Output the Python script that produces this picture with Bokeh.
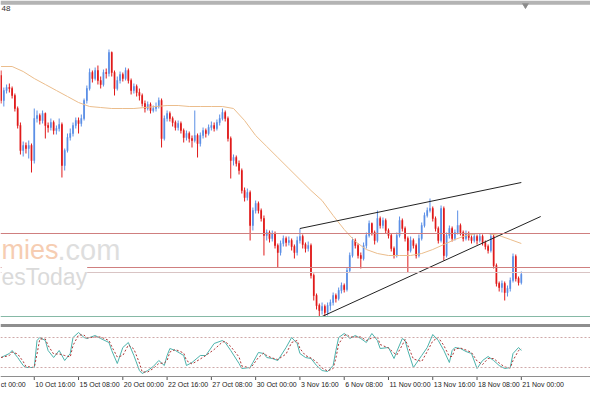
import pandas as pd
from bokeh.plotting import figure
from bokeh.models import Range1d, Span, Label, ColumnDataSource
from bokeh.core.properties import value
from bokeh.embed import file_html
from bokeh.resources import INLINE

# ---------------- data (H4 candles, 8 Oct .. 21 Nov) ----------------
first_open = 1.2625
close = [1.2600, 1.2610, 1.2613, 1.2612, 1.2605, 1.2592, 1.2575, 1.2550, 1.2555, 1.2552,
         1.2555, 1.2540, 1.2582, 1.2585, 1.2580, 1.2587, 1.2575, 1.2573, 1.2578, 1.2570,
         1.2572, 1.2576, 1.2535, 1.2550, 1.2563, 1.2567, 1.2575, 1.2580, 1.2577, 1.2582,
         1.2600, 1.2612, 1.2628, 1.2622, 1.2630, 1.2620, 1.2616, 1.2628, 1.2627, 1.2648,
         1.2628, 1.2612, 1.2620, 1.2626, 1.2622, 1.2630, 1.2620, 1.2610, 1.2614, 1.2608,
         1.2605, 1.2597, 1.2592, 1.2596, 1.2590, 1.2592, 1.2594, 1.2600, 1.2562, 1.2582,
         1.2587, 1.2582, 1.2578, 1.2573, 1.2577, 1.2570, 1.2563, 1.2567, 1.2562, 1.2560,
         1.2565, 1.2557, 1.2565, 1.2570, 1.2567, 1.2573, 1.2575, 1.2572, 1.2578, 1.2582,
         1.2588, 1.2582, 1.2562, 1.2540, 1.2543, 1.2537, 1.2530, 1.2510, 1.2503, 1.2508,
         1.2475, 1.2490, 1.2497, 1.2490, 1.2482, 1.2465, 1.2468, 1.2462, 1.2467, 1.2455,
         1.2448, 1.2457, 1.2462, 1.2458, 1.2460, 1.2454, 1.2448, 1.2460, 1.2464, 1.2456,
         1.2452, 1.2455, 1.2425, 1.2405, 1.2395, 1.2390, 1.2394, 1.2388, 1.2395, 1.2398,
         1.2405, 1.2402, 1.2410, 1.2415, 1.2411, 1.2430, 1.2445, 1.2460, 1.2455, 1.2445,
         1.2442, 1.2455, 1.2465, 1.2477, 1.2468, 1.2460, 1.2482, 1.2475, 1.2480, 1.2470,
         1.2465, 1.2452, 1.2445, 1.2465, 1.2480, 1.2472, 1.2462, 1.2450, 1.2460, 1.2455,
         1.2445, 1.2462, 1.2475, 1.2485, 1.2490, 1.2492, 1.2482, 1.2472, 1.2460, 1.2492,
         1.2445, 1.2465, 1.2472, 1.2462, 1.2468, 1.2475, 1.2468, 1.2462, 1.2467, 1.2463,
         1.2460, 1.2464, 1.2460, 1.2464, 1.2458, 1.2454, 1.2450, 1.2464, 1.2435, 1.2417,
         1.2413, 1.2417, 1.2408, 1.2412, 1.2420, 1.2444, 1.2422, 1.2418, 1.2426]
high = [1.2630, 1.2613, 1.2616, 1.2617, 1.2614, 1.2607, 1.2594, 1.2578, 1.2559, 1.2558,
        1.2560, 1.2557, 1.2592, 1.2590, 1.2587, 1.2590, 1.2588, 1.2578, 1.2582, 1.2580,
        1.2575, 1.2582, 1.2578, 1.2552, 1.2567, 1.2572, 1.2578, 1.2583, 1.2583, 1.2586,
        1.2602, 1.2615, 1.2632, 1.2630, 1.2633, 1.2635, 1.2624, 1.2631, 1.2632, 1.2651,
        1.2649, 1.2630, 1.2624, 1.2629, 1.2628, 1.2633, 1.2632, 1.2622, 1.2617, 1.2616,
        1.2612, 1.2607, 1.2600, 1.2599, 1.2598, 1.2595, 1.2598, 1.2603, 1.2602, 1.2585,
        1.2590, 1.2589, 1.2584, 1.2580, 1.2580, 1.2579, 1.2572, 1.2570, 1.2569, 1.2565,
        1.2590, 1.2567, 1.2568, 1.2573, 1.2572, 1.2576, 1.2579, 1.2578, 1.2581, 1.2586,
        1.2592, 1.2590, 1.2584, 1.2564, 1.2546, 1.2545, 1.2540, 1.2532, 1.2513, 1.2512,
        1.2510, 1.2493, 1.2500, 1.2499, 1.2492, 1.2485, 1.2471, 1.2470, 1.2470, 1.2469,
        1.2457, 1.2460, 1.2465, 1.2464, 1.2464, 1.2462, 1.2456, 1.2464, 1.2472, 1.2466,
        1.2458, 1.2459, 1.2457, 1.2427, 1.2407, 1.2397, 1.2398, 1.2396, 1.2398, 1.2401,
        1.2408, 1.2407, 1.2413, 1.2418, 1.2417, 1.2433, 1.2448, 1.2463, 1.2462, 1.2457,
        1.2448, 1.2458, 1.2468, 1.2480, 1.2478, 1.2470, 1.2490, 1.2484, 1.2483, 1.2482,
        1.2472, 1.2467, 1.2454, 1.2468, 1.2484, 1.2482, 1.2474, 1.2464, 1.2464, 1.2462,
        1.2457, 1.2466, 1.2478, 1.2488, 1.2493, 1.2502, 1.2494, 1.2484, 1.2474, 1.2495,
        1.2494, 1.2468, 1.2475, 1.2474, 1.2471, 1.2490, 1.2477, 1.2470, 1.2470, 1.2469,
        1.2465, 1.2467, 1.2466, 1.2467, 1.2466, 1.2460, 1.2456, 1.2467, 1.2466, 1.2437,
        1.2419, 1.2420, 1.2419, 1.2415, 1.2423, 1.2447, 1.2446, 1.2424, 1.2429]
low = [1.2597, 1.2594, 1.2607, 1.2608, 1.2602, 1.2589, 1.2572, 1.2546, 1.2544, 1.2547,
       1.2542, 1.2528, 1.2537, 1.2578, 1.2576, 1.2577, 1.2562, 1.2568, 1.2570, 1.2566,
       1.2566, 1.2569, 1.2523, 1.2530, 1.2548, 1.2560, 1.2564, 1.2572, 1.2567, 1.2574,
       1.2580, 1.2597, 1.2610, 1.2618, 1.2620, 1.2616, 1.2612, 1.2614, 1.2622, 1.2624,
       1.2624, 1.2605, 1.2610, 1.2617, 1.2619, 1.2620, 1.2617, 1.2606, 1.2607, 1.2604,
       1.2600, 1.2594, 1.2588, 1.2590, 1.2587, 1.2588, 1.2589, 1.2592, 1.2553, 1.2560,
       1.2579, 1.2579, 1.2574, 1.2570, 1.2570, 1.2567, 1.2558, 1.2560, 1.2558, 1.2553,
       1.2558, 1.2543, 1.2554, 1.2562, 1.2563, 1.2565, 1.2570, 1.2569, 1.2570, 1.2575,
       1.2580, 1.2579, 1.2559, 1.2522, 1.2535, 1.2534, 1.2526, 1.2507, 1.2499, 1.2500,
       1.2460, 1.2470, 1.2487, 1.2487, 1.2479, 1.2445, 1.2460, 1.2458, 1.2459, 1.2452,
       1.2433, 1.2445, 1.2454, 1.2454, 1.2455, 1.2450, 1.2442, 1.2445, 1.2457, 1.2452,
       1.2448, 1.2449, 1.2422, 1.2400, 1.2391, 1.2384, 1.2386, 1.2384, 1.2385, 1.2390,
       1.2395, 1.2398, 1.2400, 1.2407, 1.2408, 1.2409, 1.2428, 1.2443, 1.2452, 1.2442,
       1.2432, 1.2440, 1.2452, 1.2463, 1.2465, 1.2456, 1.2458, 1.2472, 1.2472, 1.2467,
       1.2462, 1.2449, 1.2442, 1.2443, 1.2463, 1.2469, 1.2459, 1.2428, 1.2448, 1.2452,
       1.2442, 1.2443, 1.2460, 1.2473, 1.2483, 1.2488, 1.2479, 1.2469, 1.2457, 1.2458,
       1.2440, 1.2443, 1.2462, 1.2459, 1.2460, 1.2466, 1.2465, 1.2459, 1.2460, 1.2460,
       1.2457, 1.2458, 1.2456, 1.2458, 1.2455, 1.2451, 1.2447, 1.2448, 1.2432, 1.2414,
       1.2409, 1.2408, 1.2400, 1.2404, 1.2409, 1.2418, 1.2419, 1.2415, 1.2416]

# moving average, read every 4 bars
ma_bars = list(range(0, 189, 4))
ma_values = [1.2634, 1.2634, 1.2629, 1.2622, 1.2616, 1.2610, 1.2604, 1.2598, 1.2594, 1.2593,
             1.2592, 1.2592, 1.2592, 1.2593, 1.2594, 1.2595, 1.2595, 1.2594, 1.2594, 1.2594,
             1.2594, 1.2592, 1.2580, 1.2565, 1.2554, 1.2543, 1.2532, 1.2521, 1.2510, 1.2500,
             1.2485, 1.2471, 1.2459, 1.2451, 1.2447, 1.2445, 1.2445, 1.2445, 1.2447, 1.2451,
             1.2456, 1.2461, 1.2465, 1.2467, 1.2467, 1.2465, 1.2461, 1.2457]

# stochastic %K
stoch_bars = [0, 3, 4, 6, 8, 9, 12, 13, 14, 16, 17, 19, 21, 23, 25, 26, 28, 30, 31, 34,
              36, 39, 40, 42, 44, 46, 48, 50, 51, 53, 55, 57, 59, 60, 61, 63, 66, 67, 69, 72,
              74, 77, 80, 81, 83, 86, 87, 90, 91, 93, 95, 96, 98, 100, 103, 105, 107, 108, 110, 112,
              114, 116, 118, 120, 121, 122, 124, 125, 126, 128, 130, 132, 134, 136, 137, 140, 142, 143, 145, 146,
              147, 149, 152, 154, 156, 158, 160, 162, 163, 164, 166, 168, 170, 172, 174, 176, 178, 180, 182, 184,
              185, 187, 188]
stoch_k = [40, 48, 54, 40, 24, 20, 20, 74, 80, 74, 54, 40, 54, 34, 48, 80, 90, 80, 78, 84,
           78, 70, 54, 28, 60, 70, 44, 14, 8, 14, 22, 34, 24, 44, 58, 54, 44, 24, 30, 44,
           44, 68, 74, 70, 54, 28, 18, 20, 30, 50, 48, 40, 38, 34, 60, 80, 68, 48, 40, 38,
           24, 14, 12, 24, 54, 80, 88, 84, 78, 84, 78, 70, 88, 74, 58, 60, 38, 52, 78, 74,
           54, 20, 44, 60, 86, 74, 54, 30, 54, 60, 58, 52, 48, 18, 34, 42, 34, 24, 18, 20,
           48, 60, 54]
stoch_levels = [80, 20]

# drawn objects
upper_trend_bars = [108, 188]
upper_trend_prices = [1.2472, 1.2518]
lower_trend_bars = [116, 195]
lower_trend_prices = [1.2384, 1.2484]
red_levels = [1.2467, 1.2433]
grey_levels = [1.2428]
green_levels = [1.2384]

tick_bars = [12, 28, 44, 60, 76, 92, 108, 124, 140, 156, 172, 188]
tick_labels = ["10 Oct 16:00", "15 Oct 08:00", "20 Oct 00:00", "22 Oct 16:00",
               "27 Oct 08:00", "30 Oct 00:00", "3 Nov 16:00", "6 Nov 08:00", "11 Nov 00:00",
               "13 Nov 16:00", "18 Nov 08:00", "21 Nov 00:00"]
first_label_visible = "ct 00:00"   # the part of "8 Oct 00:00" that shows at the left edge

# ---------------- build ----------------
n = len(close)
bars = list(range(n))
opens = [first_open] + close[:-1]
UP, DOWN = "#5b8fe6", "#e01a1a"
colors = [UP if c >= o else DOWN for o, c in zip(opens, close)]
src = ColumnDataSource(dict(
    x=bars, open=opens, close=close, high=high, low=low, color=colors,
    top=[max(o, c) + 0.00003 for o, c in zip(opens, close)],
    bottom=[min(o, c) - 0.00003 for o, c in zip(opens, close)],
))

W, H = 590, 393
NARROW = "Liberation Sans Narrow, Liberation Sans, sans-serif"
p = figure(width=W, height=H, x_range=Range1d(-0.2, 213.0), y_range=Range1d(1.2307, 1.2700),
           x_axis_type=None, y_axis_type=None, output_backend="svg", toolbar_location=None,
           min_border=0, min_border_left=0, min_border_right=0, min_border_top=0, min_border_bottom=0,
           outline_line_color=None, background_fill_color="white", border_fill_color="white")
p.grid.visible = False
p.extra_y_ranges = {"stoch": Range1d(-32, 754)}

# level lines
for lv in red_levels:
    p.add_layout(Span(location=lv, dimension="width", line_color="#cf7f7f", line_width=1))
for lv in grey_levels:
    p.add_layout(Span(location=lv, dimension="width", line_color="#d9c4c4", line_width=1))
for lv in green_levels:
    p.add_layout(Span(location=lv, dimension="width", line_color="#86b9a6", line_width=1))

# candles
p.segment(x0="x", y0="high", x1="x", y1="low", line_color="color", line_width=1, source=src)
p.vbar(x="x", width=0.62, top="top", bottom="bottom", fill_color="color", line_color=None, source=src)

# moving average
p.line(ma_bars, ma_values, line_color="#ebbd8c", line_width=1)

# trend lines
p.line(upper_trend_bars, upper_trend_prices, line_color="#222222", line_width=1)
p.line(lower_trend_bars, lower_trend_prices, line_color="#222222", line_width=1)

# top border and chart-shift marker
p.add_layout(Span(location=1.26985, dimension="width", line_color="#b4b4b4", line_width=3))
p.add_layout(Span(location=1.26965, dimension="width", line_color="#8c8c8c", line_width=1))
p.scatter([n - 1 + 1.5], [1.26955], marker="inverted_triangle", size=6, color="#8a8a8a")

# separator between panels
p.add_layout(Span(location=1.2375, dimension="width", line_color="#8e8e8e", line_width=3))

# stochastic panel
for lv in stoch_levels:
    p.add_layout(Span(location=lv, dimension="width", y_range_name="stoch",
                      line_color="#cfa9a9", line_dash="2 2", line_width=1))
signal = pd.Series(stoch_k).rolling(2, min_periods=1).mean().tolist()
p.line(stoch_bars, stoch_k, line_color="#4db3ac", line_width=1, y_range_name="stoch")
p.line(stoch_bars, signal, line_color="#b03838", line_width=1, line_dash="2 2", y_range_name="stoch")
p.add_layout(Span(location=2, dimension="width", y_range_name="stoch", line_color="#8e8e8e", line_width=1))

# time axis
all_ticks = [-4] + tick_bars
p.segment(x0=all_ticks, y0=[2] * len(all_ticks), x1=all_ticks, y1=[-5] * len(all_ticks),
          line_color="#555555", y_range_name="stoch")
p.text(x=tick_bars, y=[-14] * len(tick_bars), text=tick_labels, y_range_name="stoch",
       x_offset=1, text_align="left", text_baseline="middle", text_font_size="7px",
       text_font=value(NARROW), text_color="#222222")
p.text(x=[-0.1], y=[-14], text=[first_label_visible], y_range_name="stoch",
       text_align="left", text_baseline="middle", text_font_size="7px",
       text_font=value(NARROW), text_color="#222222")

# watermark
p.add_layout(Label(x=1, y=H - 249, x_units="screen", y_units="screen", text="mies",
                   text_align="left", text_baseline="alphabetic", text_font_size="27px",
                   text_font="Liberation Sans", text_color="#f6cdb2",
                   background_fill_color="white", background_fill_alpha=1.0))
p.add_layout(Label(x=57, y=H - 249, x_units="screen", y_units="screen", text=".com",
                   text_align="left", text_baseline="alphabetic", text_font_size="29px",
                   text_font="Liberation Sans", text_color="#dedede"))
p.add_layout(Label(x=1, y=H - 276, x_units="screen", y_units="screen", text="esToday",
                   text_align="left", text_baseline="alphabetic", text_font_size="23px",
                   text_font="Liberation Sans", text_color="#dadada",
                   background_fill_color="white", background_fill_alpha=1.0))

# partial title text at top-left
p.add_layout(Label(x=1, y=H - 8, x_units="screen", y_units="screen", text="48",
                   text_align="left", text_baseline="middle", text_font_size="8px",
                   text_font="Liberation Sans", text_color="#333333"))

open("out.html", "w").write(file_html(p, INLINE))
